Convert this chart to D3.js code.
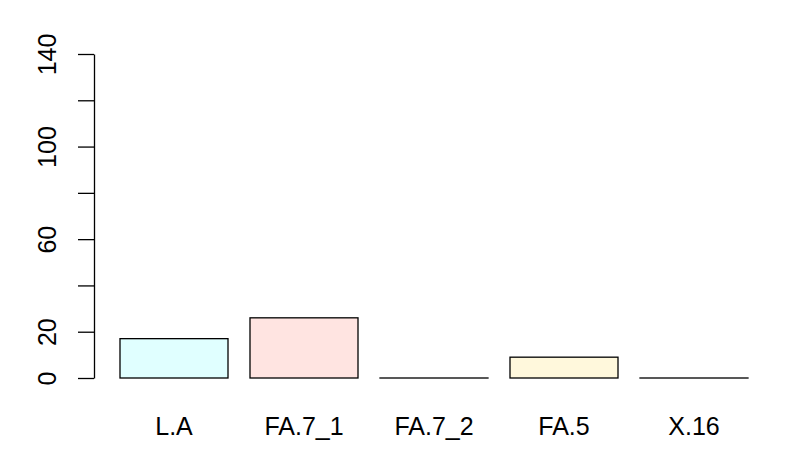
<!DOCTYPE html>
<html>
<head>
<meta charset="utf-8">
<script src="https://cdn.jsdelivr.net/npm/d3@7"></script>
<style>
  body { margin: 0; background: #fff; }
  svg { display: block; font-family: "Liberation Sans", Arial, sans-serif; }
</style>
</head>
<body>
<svg id="chart" width="789" height="473"></svg>
<script>
const categories = ['L.A', 'FA.7_1', 'FA.7_2', 'FA.5', 'X.16'];
const counts = [17, 26, 0, 9, 0];
const barColors = ['#E0FFFF', '#FFE4E1', '#FFFFFF', '#FFF8DC', '#FFFFFF'];
const yTicks = [0, 20, 40, 60, 80, 100, 120, 140];
const yTickLabels = ['0', '20', '', '60', '', '100', '', '140'];

const svg = d3.select('#chart');

const x = d3.scaleBand()
  .domain(categories)
  .range([109, 759])
  .paddingInner(0.1692)
  .paddingOuter(0.0846);

const y = d3.scaleLinear()
  .domain([0, 140])
  .range([378, 54]);

// bars (zero bars still show their outline as a flat line)
svg.append('g')
  .selectAll('rect')
  .data(categories)
  .join('rect')
  .attr('x', (d) => x(d))
  .attr('y', (d, i) => y(counts[i]))
  .attr('width', x.bandwidth())
  .attr('height', (d, i) => Math.max(y(0) - y(counts[i]), 0.01))
  .attr('fill', (d, i) => barColors[i])
  .attr('stroke', '#000')
  .attr('stroke-width', 1.3);

// y axis
const yAxis = svg.append('g')
  .attr('transform', 'translate(94,0)')
  .call(d3.axisLeft(y)
    .tickValues(yTicks)
    .tickFormat((d, i) => yTickLabels[i])
    .tickSize(16)
    .tickSizeOuter(0));

yAxis.select('.domain').attr('stroke', '#000').attr('stroke-width', 1.3);
yAxis.selectAll('.tick line').attr('stroke', '#000').attr('stroke-width', 1.3);
yAxis.selectAll('.tick text')
  .attr('x', 0)
  .attr('dy', null)
  .attr('transform', 'translate(-47,0) rotate(-90)')
  .attr('text-anchor', 'middle')
  .attr('dominant-baseline', 'central')
  .style('font-family', '"Liberation Sans", Arial, sans-serif')
  .style('font-size', '25px')
  .style('fill', '#000');

// x labels
svg.append('g')
  .selectAll('text')
  .data(categories)
  .join('text')
  .attr('x', (d) => x(d) + x.bandwidth() / 2)
  .attr('y', 435)
  .attr('text-anchor', 'middle')
  .style('font-size', '25px')
  .style('fill', '#000')
  .text((d) => d);
</script>
</body>
</html>
